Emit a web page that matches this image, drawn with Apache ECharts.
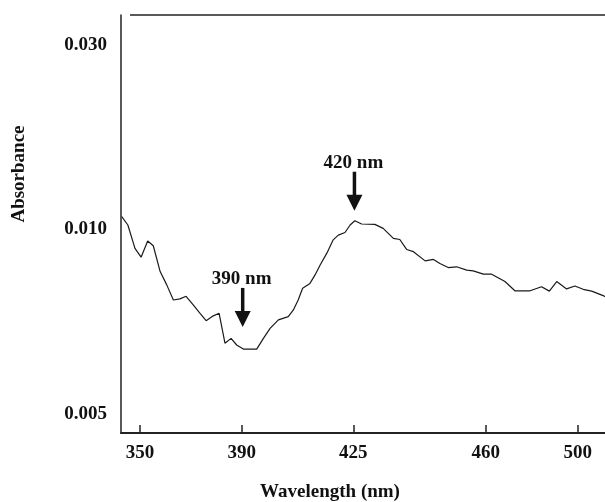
<!DOCTYPE html>
<html><head><meta charset="utf-8">
<script src="https://cdn.jsdelivr.net/npm/echarts@6/dist/echarts.min.js"></script>
<style>html,body{margin:0;padding:0;background:#fff}#c{width:605px;height:502px}</style>
</head><body><div id="c"></div>
<script>
// ---- data ----
const wavelength = [342.8,345.2,348.0,350.4,353.0,355.2,357.9,360.5,363.1,365.7,
  368.1,371.0,373.6,376.0,378.8,381.1,383.4,385.8,388.0,390.5,
  394.7,396.8,398.9,401.5,404.6,406.2,407.7,409.1,411.4,413.0,
  414.6,416.7,418.7,420.3,422.4,424.0,425.4,427.2,430.7,432.9,
  435.6,437.3,439.1,440.9,444.0,446.2,447.9,450.1,452.3,455.0,
  456.7,459.4,462.6,468.4,472.7,479.3,484.3,487.7,490.9,495.2,
  498.8,502.4,506.1,511.1,511.9];
const absorbance = [0.01139,0.01049,0.00949,0.00925,0.00969,0.00956,0.00886,0.00850,0.00809,0.00812,
  0.00819,0.00795,0.00773,0.00753,0.00766,0.00773,0.00692,0.00705,0.00687,0.00676,
  0.00676,0.00705,0.00732,0.00755,0.00764,0.00782,0.00809,0.00841,0.00854,0.00877,
  0.00904,0.00936,0.00972,0.00985,0.00992,0.01049,0.01095,0.01060,0.01056,0.01013,
  0.00976,0.00973,0.00946,0.00940,0.00915,0.00919,0.00908,0.00897,0.00899,0.00890,
  0.00888,0.00879,0.00879,0.00859,0.00834,0.00834,0.00845,0.00833,0.00859,0.00839,
  0.00847,0.00838,0.00833,0.00821,0.00818];
const xTickLabels = [350, 390, 425, 460, 500];
const yTickLabels = [0.005, 0.010, 0.030];
const annotationLabels = ['390 nm', '420 nm'];
const annotationWavelength = [390.3, 425.3];
const annotationTipAbsorbance = [0.00736, 0.01204];

// ---- printed (non-uniform) axis layout ----
const xTickPos = [0, 101.7, 213.3, 345.7, 437.7];
const yTickPos = [0, 1, 2];

function piece(v, src, dst) {
  let i = 0;
  if (v >= src[src.length - 1]) i = src.length - 2;
  else if (v > src[0]) { while (v > src[i + 1]) i++; }
  return dst[i] + (v - src[i]) * (dst[i + 1] - dst[i]) / (src[i + 1] - src[i]);
}
const xp = v => piece(v, xTickLabels, xTickPos);
const yp = v => piece(v, yTickLabels, yTickPos);
function labelFor(v, pos, labels, fmt) {
  for (let i = 0; i < pos.length; i++) if (Math.abs(pos[i] - v) < 1e-6) return fmt(labels[i]);
  return '';
}

const font = 'Liberation Serif';
const chart = echarts.init(document.getElementById('c'), null, {renderer: 'canvas'});
chart.setOption({
  animation: false,
  backgroundColor: '#fff',
  grid: {left: 121, right: 0, top: 15, bottom: 69, containLabel: false},
  xAxis: {
    type: 'value', min: xp(342.5), max: xp(511.9),
    axisLine: {onZero: false, lineStyle: {color: '#222', width: 2}},
    axisTick: {show: true, inside: true, length: 8, lineStyle: {color: '#222', width: 1.5}, customValues: xTickPos},
    axisLabel: {customValues: xTickPos, margin: 11, color: '#111', fontFamily: font, fontWeight: 'bold', fontSize: 19,
      formatter: v => labelFor(v, xTickPos, xTickLabels, String)},
    splitLine: {show: false}
  },
  yAxis: {
    type: 'value', min: -0.103, max: 2.163,
    axisLine: {show: true, onZero: false, lineStyle: {color: '#222', width: 1.5}},
    axisTick: {show: false},
    axisLabel: {customValues: yTickPos, margin: 14, color: '#111', fontFamily: font, fontWeight: 'bold', fontSize: 19,
      formatter: v => labelFor(v, yTickPos, yTickLabels, x => x.toFixed(3))},
    splitLine: {show: false}
  },
  series: [{
    type: 'line', showSymbol: false, clip: true,
    lineStyle: {color: '#1a1a1a', width: 1.2},
    data: wavelength.map((w, i) => [xp(w), yp(absorbance[i])])
  }]
});

const g = [];
annotationLabels.forEach((lab, i) => {
  const p = chart.convertToPixel({gridIndex: 0}, [xp(annotationWavelength[i]), yp(annotationTipAbsorbance[i])]);
  g.push({type: 'rect', shape: {x: p[0] - 1.75, y: p[1] - 39, width: 3.5, height: 24}, style: {fill: '#111'}});
  g.push({type: 'polygon', shape: {points: [[p[0] - 8, p[1] - 16], [p[0] + 8, p[1] - 16], [p[0], p[1]]]}, style: {fill: '#111'}});
  g.push({type: 'text', x: p[0] - 1, y: p[1] - 48, style: {text: lab, fill: '#111', font: 'bold 19px "' + font + '"', textAlign: 'center', textVerticalAlign: 'middle'}});
});
g.push({type: 'line', shape: {x1: 130, y1: 15, x2: 605, y2: 15}, style: {stroke: '#222', lineWidth: 1.5}});
g.push({type: 'text', x: 19, y: 174, rotation: Math.PI / 2, style: {text: 'Absorbance', fill: '#111', font: 'bold 19px "' + font + '"', textAlign: 'center', textVerticalAlign: 'middle'}});
g.push({type: 'text', x: 330, y: 492, style: {text: 'Wavelength (nm)', fill: '#111', font: 'bold 19px "' + font + '"', textAlign: 'center', textVerticalAlign: 'middle'}});
chart.setOption({graphic: g});
</script></body></html>
